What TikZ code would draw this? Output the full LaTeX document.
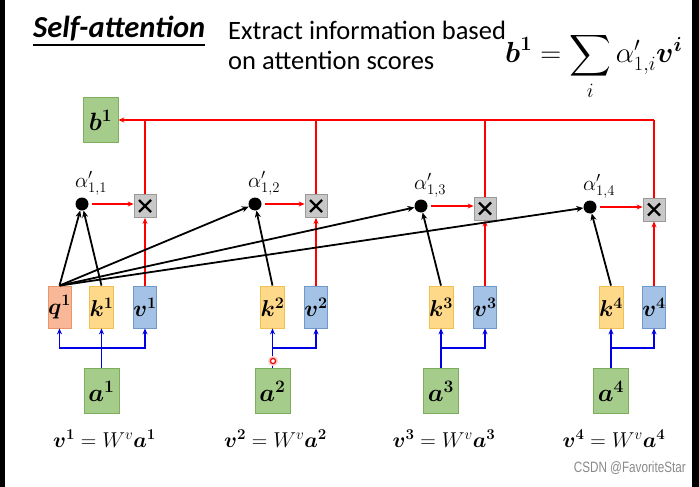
\RequirePackage{fix-cm}
\documentclass[tikz,border=0pt]{standalone}
\usepackage{amsmath}
\usepackage{amssymb}
\usepackage[no-math]{fontspec}
\setmainfont{Carlito}
\newfontfamily\wmfont{Liberation Sans}
\usetikzlibrary{positioning,calc,arrows.meta}
\definecolor{qfill}{HTML}{F8B898}
\definecolor{qline}{HTML}{E8956B}
\definecolor{kfill}{HTML}{FFD98A}
\definecolor{kline}{HTML}{F0C050}
\definecolor{vfill}{HTML}{A4C2E6}
\definecolor{vline}{HTML}{7098C8}
\definecolor{gfill}{HTML}{A5CC8A}
\definecolor{gline}{HTML}{7DAE5C}
\definecolor{xfill}{HTML}{C8C8C8}
\definecolor{xline}{HTML}{999999}
\definecolor{wmgray}{HTML}{8A8A8A}

\begin{document}
\begin{tikzpicture}[x=1pt,y=-1pt,
    vecbox/.style={line width=0.8pt,inner sep=0pt,minimum width=23pt,minimum height=42pt,
        font=\fontsize{23}{23}\selectfont},
    qbox/.style={vecbox,fill=qfill,draw=qline},
    kbox/.style={vecbox,fill=kfill,draw=kline},
    vbox/.style={vecbox,fill=vfill,draw=vline},
    inbox/.style={draw=gline,fill=gfill,line width=0.8pt,inner sep=0pt,
        minimum width=35pt,minimum height=45pt,font=\fontsize{25}{25}\selectfont},
    mulbox/.style={draw=xline,fill=xfill,line width=0.8pt,inner sep=0pt,
        minimum width=22pt,minimum height=23pt},
    scoredot/.style={circle,fill=black,inner sep=0pt,minimum size=13pt},
    crossline/.style={black,line width=2.4pt},
    redline/.style={red,line width=1.8pt},
    redarr/.style={redline,-{Stealth[length=6pt,width=5pt]}},
    bluline/.style={blue!90!black,line width=1.8pt},
    bluarr/.style={bluline,-{Stealth[length=6pt,width=5pt]}},
    blkarr/.style={black,line width=1.8pt,-{Stealth[length=7pt,width=6pt]}},
    eqtext/.style={anchor=base,inner sep=0pt,font=\fontsize{21.5}{21.5}\selectfont}
]
\useasboundingbox (0,0) rectangle (699,487);
\fill[white] (0,0) rectangle (699,487);
\fill[black] (0,0) rectangle (5,487);
\fill[black] (692,0) rectangle (699,487);

% header
\node[anchor=base west,inner sep=0pt,font=\fontsize{30.5}{30}\selectfont\bfseries\itshape]
    (title) at (33,38) {Self-attention};
\draw[line width=1.2pt] ($(title.base west)+(0,7)$) -- ($(title.base east)+(0,7)$);
\node[anchor=base west,inner sep=0pt,font=\fontsize{26.5}{26}\selectfont]
    (desc1) at (228,40) {Extract information based};
\node[anchor=base west,inner sep=0pt,font=\fontsize{26.5}{26}\selectfont]
    (desc2) at (228,70) {on attention scores};
\node[anchor=base west,inner sep=0pt,font=\fontsize{29}{29}\selectfont]
    (sumeq) at (505,63) {$\displaystyle \boldsymbol{b}^{\mathbf{1}} = \sum_{i} \alpha'_{1,i}\boldsymbol{v}^{\boldsymbol{i}}$};

\node[inbox] (b1) at (100.5,120) {$\boldsymbol{b^1}$};
\node[qbox] (q1) at (59.5,307) {$\boldsymbol{q^1}$};

\foreach \i/\kx/\vx/\dx/\dy/\my in {1/101.5/145/82/204/206,
        2/272.5/316/255/204/206,
        3/441/485/421/206/208.5,
        4/611/654/590/207/209.5} {
    \node[kbox] (k\i) at (\kx,307) {$\boldsymbol{k^\i}$};
    \node[vbox] (v\i) at (\vx,307) {$\boldsymbol{v^\i}$};
    \node[inbox] (a\i) at (\kx,391) {$\boldsymbol{a^\i}$};
    \node[scoredot] (d\i) at (\dx,\dy) {};
    \node[mulbox] (m\i) at (\vx,\my) {};
    \draw[crossline] ($(m\i)+(-6,-6)$) -- ($(m\i)+(6,6)$);
    \draw[crossline] ($(m\i)+(-6,6)$) -- ($(m\i)+(6,-6)$);
    \node[above=2pt of d\i,xshift=9pt,inner sep=0pt,font=\fontsize{21}{21}\selectfont]
        (s\i) {$\alpha'_{1,\i}$};
    \node[eqtext] (e\i) at (\kx+3,447)
        {$\boldsymbol{v}^{\mathbf{\i}} = W^{v}\boldsymbol{a}^{\mathbf{\i}}$};
    \coordinate (j\i) at (a\i.north |- 0,348);
    \draw[bluline] (a\i.north) -- (j\i);
    \draw[bluarr] (j\i) -- (k\i);
    \draw[bluarr] (j\i) -| (v\i);
    \draw[blkarr] (k\i.north) -- (d\i);
    \draw[blkarr] (q1.north) -- (d\i);
    \draw[redarr] (v\i) -- (m\i);
    \draw[redarr,shorten <=3pt] (d\i.east) -- (d\i.east -| m\i.west);
    \draw[redline] (m\i) -- (m\i |- b1);
}
\draw[bluarr] (j1) -| (q1);
\draw[redarr] (m4 |- b1) -- (b1);

% pointer mark
\fill[red!20] (273,361) circle (5pt);
\draw[red,line width=1.2pt,fill=white] (273,361) circle (2.6pt);

\node[anchor=base east,inner sep=0pt,text=wmgray,font=\wmfont\fontsize{15}{15}\selectfont]
    (wm) at (686,472) {\scalebox{0.78}[1]{CSDN @FavoriteStar}};
\end{tikzpicture}
\end{document}
